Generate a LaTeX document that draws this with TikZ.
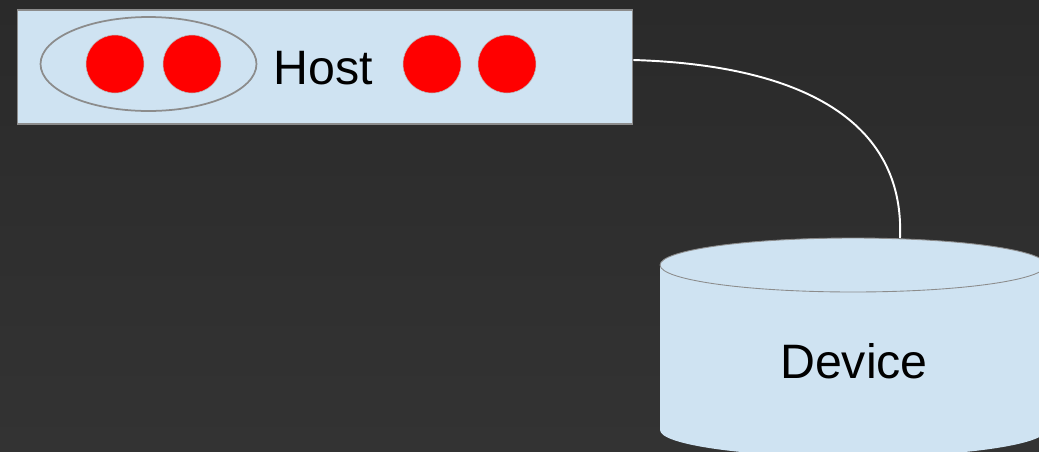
\documentclass[tikz,border=0pt]{standalone}
\usepackage{fontspec}
\setmainfont{Liberation Sans}
\usetikzlibrary{positioning,shapes.geometric}

\definecolor{bgtop}{HTML}{2A2A2A}
\definecolor{bgbottom}{HTML}{333333}
\definecolor{boxblue}{HTML}{CFE3F2}
\definecolor{edgegray}{HTML}{8C8C8C}

\tikzset{
  hostbox/.style={draw=edgegray, fill=boxblue, line width=0.6pt,
    minimum width=12.32cm, minimum height=2.28cm, inner sep=0pt},
  reddot/.style={circle, fill=red, draw=edgegray!60, line width=0.3pt,
    minimum size=1.16cm, inner sep=0pt},
  groupring/.style={ellipse, draw=edgegray, line width=1pt,
    minimum width=4.32cm, minimum height=1.88cm, inner sep=0pt},
  biglabel/.style={font=\fontsize{27.5}{33}\selectfont, text=black, inner sep=0pt},
  link/.style={draw=white, line width=1.1pt}
}

\begin{document}
\begin{tikzpicture}[x=0.02cm, y=-0.02cm]

%%% 背景
\shade[top color=bgtop, bottom color=bgbottom] (0,0) rectangle (1039,451);
\useasboundingbox (0,0) rectangle (1039,451);
\clip (0,0) rectangle (1039,451);

%% Host
\node[hostbox] (host) at (325,67) {};
\node[reddot] (dota) at (115,64) {};
\node[reddot] (dotb) at (192,64) {};
\node[groupring] (group) at (148.5,64) {};
\node[biglabel] (hostlabel) at (323.5,68) {Host};
\node[reddot] (dotc) at (432,64) {};
\node[reddot] (dotd) at (507,64) {};

%% Device
\fill[boxblue] (660,265) rectangle (1046,430);
\fill[boxblue] (853,430) ellipse [x radius=3.86cm, y radius=0.54cm];
\draw[edgegray, fill=boxblue, line width=0.5pt] (853,265) ellipse [x radius=3.86cm, y radius=0.54cm];
\node[biglabel] (device) at (854,361) {Device};
\coordinate (devtop) at (900,238);

%% 線
\coordinate (hostport) at ([yshift=0.14cm]host.east);
\draw[link] (hostport) .. controls (800,65) and (905,120) .. (devtop);

\end{tikzpicture}
\end{document}
